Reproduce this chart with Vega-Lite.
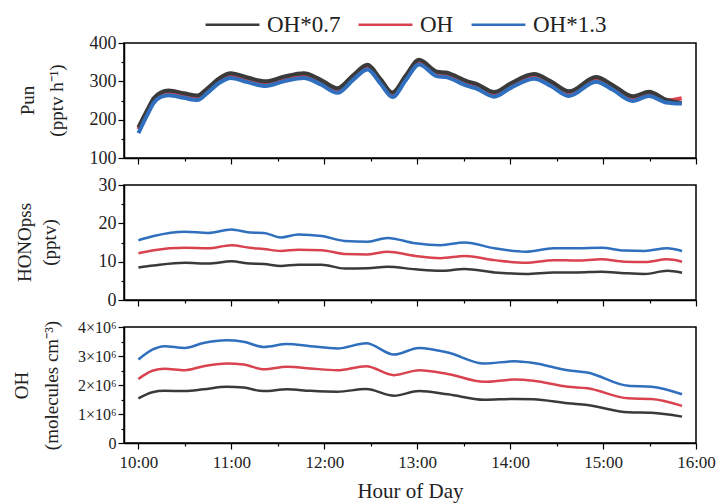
{
  "$schema": "https://vega.github.io/schema/vega-lite/v6.json",
  "background": "white",
  "padding": {"left": 11, "top": -4, "right": 5, "bottom": 5},
  "bounds": "flush",
  "spacing": 27,
  "config": {
    "font": "Liberation Serif",
    "view": {"stroke": "black", "strokeWidth": 1.5},
    "axis": {
      "domainColor": "black", "domainWidth": 1.5, "tickColor": "black", "tickWidth": 1.2,
      "labelColor": "#222", "titleColor": "#222", "labelFont": "Liberation Serif", "titleFont": "Liberation Serif",
      "labelFontSize": 18, "titleFontSize": 19, "titleFontWeight": "normal", "grid": false
    },
    "legend": {
      "labelFont": "Liberation Serif", "labelFontSize": 23, "labelColor": "#222", "labelLimit": 300
    }
  },
  "datasets": {
    "pun": [
      {"t": 10.0, "s": "OH", "v": 175}, {"t": 10.097, "s": "OH", "v": 221}, {"t": 10.165, "s": "OH", "v": 251}, {"t": 10.24, "s": "OH", "v": 266}, {"t": 10.326, "s": "OH", "v": 271}, {"t": 10.488, "s": "OH", "v": 264}, {"t": 10.635, "s": "OH", "v": 258}, {"t": 10.743, "s": "OH", "v": 277}, {"t": 10.864, "s": "OH", "v": 302}, {"t": 10.994, "s": "OH", "v": 316}, {"t": 11.173, "s": "OH", "v": 305}, {"t": 11.37, "s": "OH", "v": 295}, {"t": 11.564, "s": "OH", "v": 307}, {"t": 11.779, "s": "OH", "v": 316}, {"t": 11.962, "s": "OH", "v": 299}, {"t": 12.142, "s": "OH", "v": 277}, {"t": 12.307, "s": "OH", "v": 310}, {"t": 12.465, "s": "OH", "v": 338}, {"t": 12.608, "s": "OH", "v": 300}, {"t": 12.734, "s": "OH", "v": 266}, {"t": 12.877, "s": "OH", "v": 310}, {"t": 13.02, "s": "OH", "v": 351}, {"t": 13.218, "s": "OH", "v": 320}, {"t": 13.308, "s": "OH", "v": 318}, {"t": 13.541, "s": "OH", "v": 295}, {"t": 13.631, "s": "OH", "v": 289}, {"t": 13.828, "s": "OH", "v": 267}, {"t": 14.008, "s": "OH", "v": 290}, {"t": 14.258, "s": "OH", "v": 314}, {"t": 14.438, "s": "OH", "v": 295}, {"t": 14.635, "s": "OH", "v": 269}, {"t": 14.923, "s": "OH", "v": 306}, {"t": 15.106, "s": "OH", "v": 285}, {"t": 15.318, "s": "OH", "v": 256}, {"t": 15.496, "s": "OH", "v": 269}, {"t": 15.676, "s": "OH", "v": 250}, {"t": 15.846, "s": "OH", "v": 256},
      {"t": 10.0, "s": "OH*0.7", "v": 180}, {"t": 10.097, "s": "OH*0.7", "v": 226}, {"t": 10.165, "s": "OH*0.7", "v": 256}, {"t": 10.24, "s": "OH*0.7", "v": 271}, {"t": 10.326, "s": "OH*0.7", "v": 276}, {"t": 10.488, "s": "OH*0.7", "v": 269}, {"t": 10.635, "s": "OH*0.7", "v": 263}, {"t": 10.743, "s": "OH*0.7", "v": 282}, {"t": 10.864, "s": "OH*0.7", "v": 307}, {"t": 10.994, "s": "OH*0.7", "v": 321}, {"t": 11.173, "s": "OH*0.7", "v": 310}, {"t": 11.37, "s": "OH*0.7", "v": 300}, {"t": 11.564, "s": "OH*0.7", "v": 312}, {"t": 11.779, "s": "OH*0.7", "v": 321}, {"t": 11.962, "s": "OH*0.7", "v": 304}, {"t": 12.142, "s": "OH*0.7", "v": 282}, {"t": 12.307, "s": "OH*0.7", "v": 315}, {"t": 12.465, "s": "OH*0.7", "v": 343}, {"t": 12.608, "s": "OH*0.7", "v": 305}, {"t": 12.734, "s": "OH*0.7", "v": 271}, {"t": 12.877, "s": "OH*0.7", "v": 315}, {"t": 13.02, "s": "OH*0.7", "v": 356}, {"t": 13.218, "s": "OH*0.7", "v": 325}, {"t": 13.308, "s": "OH*0.7", "v": 323}, {"t": 13.541, "s": "OH*0.7", "v": 300}, {"t": 13.631, "s": "OH*0.7", "v": 294}, {"t": 13.828, "s": "OH*0.7", "v": 272}, {"t": 14.008, "s": "OH*0.7", "v": 295}, {"t": 14.258, "s": "OH*0.7", "v": 319}, {"t": 14.438, "s": "OH*0.7", "v": 300}, {"t": 14.635, "s": "OH*0.7", "v": 274}, {"t": 14.923, "s": "OH*0.7", "v": 311}, {"t": 15.106, "s": "OH*0.7", "v": 290}, {"t": 15.318, "s": "OH*0.7", "v": 261}, {"t": 15.496, "s": "OH*0.7", "v": 273}, {"t": 15.676, "s": "OH*0.7", "v": 252}, {"t": 15.846, "s": "OH*0.7", "v": 243},
      {"t": 10.0, "s": "OH*1.3", "v": 165}, {"t": 10.097, "s": "OH*1.3", "v": 213}, {"t": 10.165, "s": "OH*1.3", "v": 244}, {"t": 10.24, "s": "OH*1.3", "v": 259}, {"t": 10.326, "s": "OH*1.3", "v": 264}, {"t": 10.488, "s": "OH*1.3", "v": 257}, {"t": 10.635, "s": "OH*1.3", "v": 251}, {"t": 10.743, "s": "OH*1.3", "v": 270}, {"t": 10.864, "s": "OH*1.3", "v": 295}, {"t": 10.994, "s": "OH*1.3", "v": 309}, {"t": 11.173, "s": "OH*1.3", "v": 298}, {"t": 11.37, "s": "OH*1.3", "v": 288}, {"t": 11.564, "s": "OH*1.3", "v": 300}, {"t": 11.779, "s": "OH*1.3", "v": 309}, {"t": 11.962, "s": "OH*1.3", "v": 292}, {"t": 12.142, "s": "OH*1.3", "v": 270}, {"t": 12.307, "s": "OH*1.3", "v": 303}, {"t": 12.465, "s": "OH*1.3", "v": 331}, {"t": 12.608, "s": "OH*1.3", "v": 293}, {"t": 12.734, "s": "OH*1.3", "v": 259}, {"t": 12.877, "s": "OH*1.3", "v": 303}, {"t": 13.02, "s": "OH*1.3", "v": 344}, {"t": 13.218, "s": "OH*1.3", "v": 313}, {"t": 13.308, "s": "OH*1.3", "v": 311}, {"t": 13.541, "s": "OH*1.3", "v": 288}, {"t": 13.631, "s": "OH*1.3", "v": 282}, {"t": 13.828, "s": "OH*1.3", "v": 260}, {"t": 14.008, "s": "OH*1.3", "v": 283}, {"t": 14.258, "s": "OH*1.3", "v": 307}, {"t": 14.438, "s": "OH*1.3", "v": 288}, {"t": 14.635, "s": "OH*1.3", "v": 262}, {"t": 14.923, "s": "OH*1.3", "v": 299}, {"t": 15.106, "s": "OH*1.3", "v": 278}, {"t": 15.318, "s": "OH*1.3", "v": 249}, {"t": 15.496, "s": "OH*1.3", "v": 262}, {"t": 15.676, "s": "OH*1.3", "v": 245}, {"t": 15.846, "s": "OH*1.3", "v": 242}
    ],
    "hono": [
      {"t": 10.0, "s": "OH*1.3", "v": 15.6}, {"t": 10.165, "s": "OH*1.3", "v": 16.7}, {"t": 10.5, "s": "OH*1.3", "v": 17.8}, {"t": 10.75, "s": "OH*1.3", "v": 17.5}, {"t": 11.0, "s": "OH*1.3", "v": 18.4}, {"t": 11.2, "s": "OH*1.3", "v": 17.6}, {"t": 11.35, "s": "OH*1.3", "v": 17.5}, {"t": 11.53, "s": "OH*1.3", "v": 16.3}, {"t": 11.72, "s": "OH*1.3", "v": 17.1}, {"t": 11.97, "s": "OH*1.3", "v": 16.7}, {"t": 12.22, "s": "OH*1.3", "v": 15.4}, {"t": 12.47, "s": "OH*1.3", "v": 15.2}, {"t": 12.68, "s": "OH*1.3", "v": 16.2}, {"t": 12.98, "s": "OH*1.3", "v": 14.8}, {"t": 13.25, "s": "OH*1.3", "v": 14.3}, {"t": 13.51, "s": "OH*1.3", "v": 15.0}, {"t": 13.83, "s": "OH*1.3", "v": 13.5}, {"t": 14.17, "s": "OH*1.3", "v": 12.6}, {"t": 14.47, "s": "OH*1.3", "v": 13.5}, {"t": 14.72, "s": "OH*1.3", "v": 13.5}, {"t": 14.98, "s": "OH*1.3", "v": 13.6}, {"t": 15.23, "s": "OH*1.3", "v": 12.9}, {"t": 15.45, "s": "OH*1.3", "v": 12.8}, {"t": 15.69, "s": "OH*1.3", "v": 13.5}, {"t": 15.85, "s": "OH*1.3", "v": 12.8},
      {"t": 10.0, "s": "OH", "v": 12.2}, {"t": 10.165, "s": "OH", "v": 13.0}, {"t": 10.5, "s": "OH", "v": 13.6}, {"t": 10.75, "s": "OH", "v": 13.5}, {"t": 11.0, "s": "OH", "v": 14.3}, {"t": 11.2, "s": "OH", "v": 13.6}, {"t": 11.35, "s": "OH", "v": 13.3}, {"t": 11.53, "s": "OH", "v": 12.8}, {"t": 11.72, "s": "OH", "v": 13.1}, {"t": 11.97, "s": "OH", "v": 13.0}, {"t": 12.22, "s": "OH", "v": 12.0}, {"t": 12.47, "s": "OH", "v": 11.9}, {"t": 12.68, "s": "OH", "v": 12.6}, {"t": 12.98, "s": "OH", "v": 11.5}, {"t": 13.25, "s": "OH", "v": 10.9}, {"t": 13.51, "s": "OH", "v": 11.5}, {"t": 13.83, "s": "OH", "v": 10.4}, {"t": 14.17, "s": "OH", "v": 9.7}, {"t": 14.47, "s": "OH", "v": 10.4}, {"t": 14.72, "s": "OH", "v": 10.3}, {"t": 14.98, "s": "OH", "v": 10.6}, {"t": 15.23, "s": "OH", "v": 10.0}, {"t": 15.45, "s": "OH", "v": 9.9}, {"t": 15.69, "s": "OH", "v": 10.6}, {"t": 15.85, "s": "OH", "v": 10.0},
      {"t": 10.0, "s": "OH*0.7", "v": 8.5}, {"t": 10.165, "s": "OH*0.7", "v": 9.0}, {"t": 10.5, "s": "OH*0.7", "v": 9.7}, {"t": 10.75, "s": "OH*0.7", "v": 9.5}, {"t": 11.0, "s": "OH*0.7", "v": 10.1}, {"t": 11.2, "s": "OH*0.7", "v": 9.5}, {"t": 11.35, "s": "OH*0.7", "v": 9.4}, {"t": 11.53, "s": "OH*0.7", "v": 8.9}, {"t": 11.72, "s": "OH*0.7", "v": 9.2}, {"t": 11.97, "s": "OH*0.7", "v": 9.2}, {"t": 12.22, "s": "OH*0.7", "v": 8.2}, {"t": 12.47, "s": "OH*0.7", "v": 8.3}, {"t": 12.68, "s": "OH*0.7", "v": 8.7}, {"t": 12.98, "s": "OH*0.7", "v": 8.0}, {"t": 13.25, "s": "OH*0.7", "v": 7.6}, {"t": 13.51, "s": "OH*0.7", "v": 8.1}, {"t": 13.83, "s": "OH*0.7", "v": 7.2}, {"t": 14.17, "s": "OH*0.7", "v": 6.8}, {"t": 14.47, "s": "OH*0.7", "v": 7.2}, {"t": 14.72, "s": "OH*0.7", "v": 7.2}, {"t": 14.98, "s": "OH*0.7", "v": 7.4}, {"t": 15.23, "s": "OH*0.7", "v": 7.0}, {"t": 15.45, "s": "OH*0.7", "v": 6.8}, {"t": 15.69, "s": "OH*0.7", "v": 7.6}, {"t": 15.85, "s": "OH*0.7", "v": 7.1}
    ],
    "oh": [
      {"t": 10.0, "s": "OH*1.3", "v": 2880000}, {"t": 10.15, "s": "OH*1.3", "v": 3220000}, {"t": 10.28, "s": "OH*1.3", "v": 3340000}, {"t": 10.5, "s": "OH*1.3", "v": 3280000}, {"t": 10.7, "s": "OH*1.3", "v": 3450000}, {"t": 10.95, "s": "OH*1.3", "v": 3540000}, {"t": 11.13, "s": "OH*1.3", "v": 3490000}, {"t": 11.35, "s": "OH*1.3", "v": 3310000}, {"t": 11.6, "s": "OH*1.3", "v": 3410000}, {"t": 11.85, "s": "OH*1.3", "v": 3340000}, {"t": 12.14, "s": "OH*1.3", "v": 3260000}, {"t": 12.45, "s": "OH*1.3", "v": 3440000}, {"t": 12.75, "s": "OH*1.3", "v": 3050000}, {"t": 13.02, "s": "OH*1.3", "v": 3280000}, {"t": 13.33, "s": "OH*1.3", "v": 3120000}, {"t": 13.72, "s": "OH*1.3", "v": 2740000}, {"t": 14.05, "s": "OH*1.3", "v": 2820000}, {"t": 14.25, "s": "OH*1.3", "v": 2760000}, {"t": 14.62, "s": "OH*1.3", "v": 2510000}, {"t": 14.83, "s": "OH*1.3", "v": 2430000}, {"t": 15.27, "s": "OH*1.3", "v": 1970000}, {"t": 15.52, "s": "OH*1.3", "v": 1940000}, {"t": 15.85, "s": "OH*1.3", "v": 1680000},
      {"t": 10.0, "s": "OH", "v": 2210000}, {"t": 10.15, "s": "OH", "v": 2490000}, {"t": 10.28, "s": "OH", "v": 2560000}, {"t": 10.5, "s": "OH", "v": 2510000}, {"t": 10.7, "s": "OH", "v": 2650000}, {"t": 10.95, "s": "OH", "v": 2740000}, {"t": 11.13, "s": "OH", "v": 2710000}, {"t": 11.35, "s": "OH", "v": 2540000}, {"t": 11.6, "s": "OH", "v": 2630000}, {"t": 11.85, "s": "OH", "v": 2570000}, {"t": 12.14, "s": "OH", "v": 2510000}, {"t": 12.45, "s": "OH", "v": 2650000}, {"t": 12.75, "s": "OH", "v": 2340000}, {"t": 13.02, "s": "OH", "v": 2510000}, {"t": 13.33, "s": "OH", "v": 2380000}, {"t": 13.72, "s": "OH", "v": 2110000}, {"t": 14.05, "s": "OH", "v": 2190000}, {"t": 14.25, "s": "OH", "v": 2150000}, {"t": 14.62, "s": "OH", "v": 1940000}, {"t": 14.83, "s": "OH", "v": 1890000}, {"t": 15.27, "s": "OH", "v": 1540000}, {"t": 15.52, "s": "OH", "v": 1520000}, {"t": 15.85, "s": "OH", "v": 1280000},
      {"t": 10.0, "s": "OH*0.7", "v": 1540000}, {"t": 10.15, "s": "OH*0.7", "v": 1750000}, {"t": 10.28, "s": "OH*0.7", "v": 1800000}, {"t": 10.5, "s": "OH*0.7", "v": 1790000}, {"t": 10.7, "s": "OH*0.7", "v": 1850000}, {"t": 10.95, "s": "OH*0.7", "v": 1940000}, {"t": 11.13, "s": "OH*0.7", "v": 1910000}, {"t": 11.35, "s": "OH*0.7", "v": 1790000}, {"t": 11.6, "s": "OH*0.7", "v": 1850000}, {"t": 11.85, "s": "OH*0.7", "v": 1800000}, {"t": 12.14, "s": "OH*0.7", "v": 1770000}, {"t": 12.45, "s": "OH*0.7", "v": 1860000}, {"t": 12.75, "s": "OH*0.7", "v": 1630000}, {"t": 13.02, "s": "OH*0.7", "v": 1790000}, {"t": 13.33, "s": "OH*0.7", "v": 1680000}, {"t": 13.72, "s": "OH*0.7", "v": 1490000}, {"t": 14.05, "s": "OH*0.7", "v": 1520000}, {"t": 14.25, "s": "OH*0.7", "v": 1510000}, {"t": 14.62, "s": "OH*0.7", "v": 1370000}, {"t": 14.83, "s": "OH*0.7", "v": 1310000}, {"t": 15.27, "s": "OH*0.7", "v": 1060000}, {"t": 15.52, "s": "OH*0.7", "v": 1040000}, {"t": 15.85, "s": "OH*0.7", "v": 910000}
    ]
  },
  "vconcat": [
    {
      "width": 572, "height": 115,
      "data": {"name": "pun"},
      "mark": {"type": "line", "strokeWidth": 4, "interpolate": "monotone"},
      "encoding": {
        "x": {"field": "t", "type": "quantitative", "scale": {"domain": [9.845, 16], "nice": false, "zero": false},
              "axis": {"values": [10, 10.5, 11, 11.5, 12, 12.5, 13, 13.5, 14, 14.5, 15, 15.5, 16], "labels": false, "title": null,
                       "tickSize": {"condition": {"test": "datum.value % 1 === 0", "value": 6}, "value": 3}}},
        "y": {"field": "v", "type": "quantitative", "scale": {"domain": [100, 400], "nice": false, "zero": false},
              "axis": {"values": [100, 150, 200, 250, 300, 350, 400], "labelExpr": "datum.value % 100 === 0 ? datum.label : ''",
                       "labelFont": "Liberation Serif", "titleFont": "Liberation Serif",
                       "tickSize": {"condition": {"test": "datum.value % 100 === 0", "value": 6}, "value": 3},
                       "title": ["Pun", "(pptv h⁻¹)"], "titleX": -106, "titleY": 57, "titleAngle": -90, "titleAlign": "center", "titleBaseline": "top", "titleLineHeight": 29}},
        "color": {"field": "s", "type": "nominal",
                  "scale": {"domain": ["OH*0.7", "OH", "OH*1.3"], "range": ["#3a3a3a", "#d9434f", "#2f6fbd"]},
                  "legend": {"orient": "none", "legendX": 80, "legendY": -47, "direction": "horizontal", "title": null,
                             "symbolType": "stroke", "symbolSize": 2900, "symbolStrokeWidth": 2.5, "labelOffset": 6, "columnPadding": 12}}
      }
    },
    {
      "width": 572, "height": 115,
      "data": {"name": "hono"},
      "mark": {"type": "line", "strokeWidth": 2.5, "interpolate": "monotone"},
      "encoding": {
        "x": {"field": "t", "type": "quantitative", "scale": {"domain": [9.845, 16], "nice": false, "zero": false},
              "axis": {"values": [10, 10.5, 11, 11.5, 12, 12.5, 13, 13.5, 14, 14.5, 15, 15.5, 16], "labels": false, "title": null,
                       "tickSize": {"condition": {"test": "datum.value % 1 === 0", "value": 6}, "value": 3}}},
        "y": {"field": "v", "type": "quantitative", "scale": {"domain": [0, 30], "nice": false},
              "axis": {"values": [0, 5, 10, 15, 20, 25, 30], "labelExpr": "datum.value % 10 === 0 ? datum.label : ''",
                       "labelFont": "Liberation Serif", "titleFont": "Liberation Serif",
                       "tickSize": {"condition": {"test": "datum.value % 10 === 0", "value": 6}, "value": 3},
                       "title": ["HONOpss", "(pptv)"], "titleX": -109, "titleY": 57, "titleAngle": -90, "titleAlign": "center", "titleBaseline": "top", "titleLineHeight": 25}},
        "color": {"field": "s", "type": "nominal", "scale": {"domain": ["OH*0.7", "OH", "OH*1.3"], "range": ["#3a3a3a", "#d9434f", "#2f6fbd"]}}
      }
    },
    {
      "width": 572, "height": 116,
      "data": {"name": "oh"},
      "mark": {"type": "line", "strokeWidth": 2.5, "interpolate": "monotone"},
      "encoding": {
        "x": {"field": "t", "type": "quantitative", "scale": {"domain": [9.845, 16], "nice": false, "zero": false},
              "axis": {"values": [10, 10.5, 11, 11.5, 12, 12.5, 13, 13.5, 14, 14.5, 15, 15.5, 16],
                       "labelExpr": "datum.value % 1 === 0 ? datum.value + ':00' : ''", "labelPadding": 5, "labelFlush": false,
                       "labelFont": "Liberation Serif", "titleFont": "Liberation Serif", "labelFontSize": 17,
                       "title": "Hour of Day", "titleFontSize": 21, "titlePadding": 10,
                       "tickSize": {"condition": {"test": "datum.value % 1 === 0", "value": 6}, "value": 3}}},
        "y": {"field": "v", "type": "quantitative", "scale": {"domain": [0, 4000000], "nice": false},
              "axis": {"values": [0, 500000, 1000000, 1500000, 2000000, 2500000, 3000000, 3500000, 4000000],
                       "labelExpr": "datum.value % 1000000 === 0 ? (datum.value === 0 ? '0' : (datum.value / 1000000) + '×10⁶') : ''",
                       "labelFont": "Liberation Serif", "titleFont": "Liberation Serif", "labelFontSize": 16,
                       "tickSize": {"condition": {"test": "datum.value % 1000000 === 0", "value": 6}, "value": 3},
                       "title": ["OH", "(molecules cm⁻³)"], "titleX": -112, "titleY": 58, "titleAngle": -90, "titleAlign": "center", "titleBaseline": "top", "titleLineHeight": 30}},
        "color": {"field": "s", "type": "nominal", "scale": {"domain": ["OH*0.7", "OH", "OH*1.3"], "range": ["#3a3a3a", "#d9434f", "#2f6fbd"]}}
      }
    }
  ]
}
